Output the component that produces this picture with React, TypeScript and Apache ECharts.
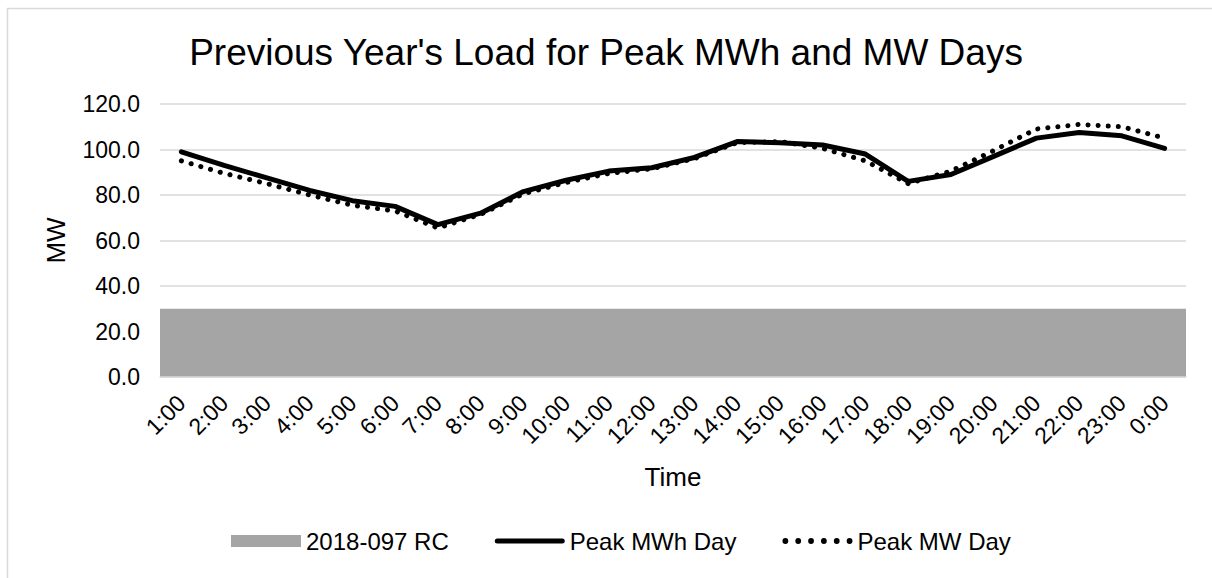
import React, { useEffect, useRef } from "react";
import * as echarts from "echarts";

const categories = [
  "1:00", "2:00", "3:00", "4:00", "5:00", "6:00", "7:00", "8:00", "9:00", "10:00", "11:00", "12:00",
  "13:00", "14:00", "15:00", "16:00", "17:00", "18:00", "19:00", "20:00", "21:00", "22:00", "23:00", "0:00",
];
const rcValues = [30, 30, 30, 30, 30, 30, 30, 30, 30, 30, 30, 30, 30, 30, 30, 30, 30, 30, 30, 30, 30, 30, 30, 30];
const peakMWhDay = [
  99, 93, 87.5, 82, 77.5, 75, 67, 72, 81.5, 86.5, 90.5, 92,
  96.5, 103.5, 103, 102, 98, 86, 89, 97, 105, 107.5, 106, 100.5,
];
const peakMWDay = [
  95, 89.5, 85, 80, 75.5, 73, 65.5, 71.5, 80.5, 85.5, 89.5, 91.5,
  96, 103, 103.5, 100.5, 95, 85, 90.5, 99.5, 109, 111, 110, 105,
];

const FONT = "Liberation Sans, Arial, sans-serif";

function dotsPath(count: number, step: number, r: number): string {
  let d = "path://";
  for (let i = 0; i < count; i++) {
    const cx = r + i * step;
    d += `M${cx - r},${r}a${r},${r} 0 1,0 ${2 * r},0a${r},${r} 0 1,0 ${-2 * r},0`;
  }
  return d;
}

const SOLID_ICON = "path://M2.5,0H67.5A2.5,2.5 0 0,1 67.5,5H2.5A2.5,2.5 0 0,1 2.5,0Z";

export default function App() {
  const ref = useRef<HTMLDivElement>(null);
  useEffect(() => {
    if (!ref.current) return;
    const chart = echarts.init(ref.current, undefined, { renderer: "svg" });
    chart.setOption({
      animation: false,
      backgroundColor: "#ffffff",
      textStyle: { fontFamily: FONT },
      title: {
        text: "Previous Year's Load for Peak MWh and MW Days",
        left: "center",
        top: 29,
        textStyle: { fontFamily: FONT, fontSize: 37, fontWeight: "normal", color: "#000000" },
      },
      graphic: [
        {
          type: "rect",
          shape: { x: 7.5, y: 8.5, width: 1300, height: 700 },
          style: { fill: "none", stroke: "#d9d9d9", lineWidth: 1.5 },
          silent: true,
        },
      ],
      grid: { left: 160, right: 26, top: 104, bottom: 201, containLabel: false },
      legend: {
        bottom: 20,
        left: 226,
        itemWidth: 70,
        itemHeight: 12,
        itemGap: 46,
        textStyle: { fontFamily: FONT, fontSize: 24, color: "#000000" },
        data: [
          { name: "2018-097 RC", icon: "rect" },
          { name: "Peak MWh Day", icon: SOLID_ICON },
          { name: "Peak MW Day", icon: dotsPath(6, 11.5, 2.6) },
        ],
      },
      xAxis: [
        {
          type: "category",
          data: categories,
          boundaryGap: true,
          name: "Time",
          nameLocation: "middle",
          nameGap: 87,
          nameTextStyle: { fontFamily: FONT, fontSize: 26, color: "#000000" },
          axisLine: { lineStyle: { color: "#d9d9d9", width: 1.5 } },
          axisTick: { show: false },
          axisLabel: {
            rotate: 45,
            interval: 0,
            margin: 22,
            fontFamily: FONT,
            fontSize: 23,
            color: "#000000",
          },
          z: 5,
        },
        {
          type: "category",
          data: categories,
          boundaryGap: false,
          show: false,
        },
      ],
      yAxis: {
        type: "value",
        min: 0,
        max: 120,
        interval: 20,
        name: "MW",
        nameLocation: "middle",
        nameGap: 91,
        nameTextStyle: { fontFamily: FONT, fontSize: 26, color: "#000000" },
        axisLine: { show: false },
        axisTick: { show: false },
        axisLabel: {
          formatter: (v: number) => v.toFixed(1),
          margin: 20,
          fontFamily: FONT,
          fontSize: 23,
          color: "#000000",
        },
        splitLine: { lineStyle: { color: "#d9d9d9", width: 1.5 } },
      },
      series: [
        {
          name: "2018-097 RC",
          type: "line",
          xAxisIndex: 1,
          data: rcValues,
          symbol: "none",
          lineStyle: { width: 0, color: "#a5a5a5" },
          areaStyle: { color: "#a5a5a5", opacity: 1 },
          itemStyle: { color: "#a5a5a5" },
          z: 1,
        },
        {
          name: "Peak MWh Day",
          type: "line",
          data: peakMWhDay,
          symbol: "none",
          lineStyle: { color: "#000000", width: 5, cap: "round", join: "round" },
          itemStyle: { color: "#000000" },
          z: 3,
        },
        {
          name: "Peak MW Day",
          type: "line",
          data: peakMWDay,
          symbol: "none",
          lineStyle: { color: "#000000", width: 5, type: [0.1, 10], cap: "round", join: "round" },
          itemStyle: { color: "#000000" },
          z: 2,
        },
      ],
    });
    return () => chart.dispose();
  }, []);
  return (
    <div
      ref={ref}
      style={{ position: "absolute", left: 0, top: 0, width: 1212, height: 578 }}
    />
  );
}
